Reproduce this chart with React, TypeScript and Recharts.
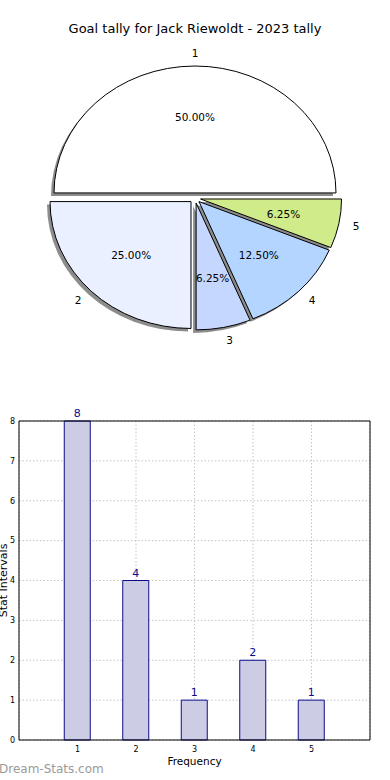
import { Bar, BarChart, CartesianGrid, Cell, LabelList, Pie, PieChart, ReferenceLine, Sector, XAxis, YAxis } from 'recharts';

const goalCounts = [1, 2, 3, 4, 5];
const frequencies = [8, 4, 1, 2, 1];
const sliceColors = ['#ffffff', '#eaf0ff', '#c6d7ff', '#b3d5ff', '#d0eb8a'];
const yTicks = [0, 1, 2, 3, 4, 5, 6, 7, 8];
const xTicks = [1, 2, 3, 4, 5];

const FONT = '"DejaVu Sans", sans-serif';
const SY = 0.9; // pie is drawn as an ellipse, like the original
const EXPLODE = 0.04;
const NAVY = '#0c0c8a';

const pieData = goalCounts.map((g, i) => ({ name: String(g), value: frequencies[i] }));
const barData = goalCounts.map((g, i) => ({ x: g, count: frequencies[i] }));

function offsetOf(props: any) {
  const rad = (-props.midAngle * Math.PI) / 180;
  const d = EXPLODE * props.outerRadius;
  return { rad, ex: d * Math.cos(rad), ey: d * Math.sin(rad) };
}

function ShadowSlice(props: any) {
  const { cx, cy, outerRadius, startAngle, endAngle } = props;
  const { ex, ey } = offsetOf(props);
  return (
    <g transform={`translate(0 ${cy}) scale(1 ${SY}) translate(${ex - 3} ${ey - cy + 3 / SY})`}>
      <Sector cx={cx} cy={cy} innerRadius={0} outerRadius={outerRadius} startAngle={startAngle} endAngle={endAngle} fill="#8c8c8c" stroke="none" />
    </g>
  );
}

function Slice(props: any) {
  const { cx, cy, outerRadius, startAngle, endAngle, fill, percent, name } = props;
  const { rad, ex, ey } = offsetOf(props);
  const lx = cx + ex + 1.1 * outerRadius * Math.cos(rad);
  const ly = cy + SY * (ey + 1.1 * outerRadius * Math.sin(rad));
  const px = cx + ex + 0.6 * outerRadius * Math.cos(rad);
  const py = cy + SY * (ey + 0.6 * outerRadius * Math.sin(rad));
  return (
    <g>
      <g transform={`translate(0 ${cy}) scale(1 ${SY}) translate(${ex} ${ey - cy})`}>
        <Sector
          cx={cx}
          cy={cy}
          innerRadius={0}
          outerRadius={outerRadius}
          startAngle={startAngle}
          endAngle={endAngle}
          fill={fill}
          stroke="#000"
          strokeWidth={1}
          vectorEffect="non-scaling-stroke"
        />
      </g>
      <text x={lx} y={ly} textAnchor={Math.cos(rad) > 0.001 ? 'start' : Math.cos(rad) < -0.001 ? 'end' : 'middle'} dominantBaseline="central" fontSize={10.5} fontFamily={FONT} fill="#000">
        {name}
      </text>
      <text x={px} y={py} textAnchor="middle" dominantBaseline="central" fontSize={10.5} fontFamily={FONT} fill="#000">
        {(percent * 100).toFixed(2)}%
      </text>
    </g>
  );
}

const tickStyle = { fontFamily: FONT, fontSize: 8, fill: '#000' };

export default function App() {
  return (
    <div style={{ position: 'absolute', left: 0, top: 0, width: 390, height: 780, background: '#fff', overflow: 'hidden' }}>
      <div style={{ position: 'absolute', left: 0, top: 21, width: 390, textAlign: 'center', fontFamily: FONT, fontSize: 13, color: '#000' }}>
        Goal tally for Jack Riewoldt - 2023 tally
      </div>
      <div style={{ position: 'absolute', left: 0, top: 0 }}>
        <PieChart width={390} height={370} margin={{ top: 0, right: 0, bottom: 0, left: 0 }}>
          <Pie
            data={pieData}
            dataKey="value"
            cx={195}
            cy={198}
            outerRadius={141}
            startAngle={0}
            endAngle={360}
            shape={ShadowSlice}
            inactiveShape={ShadowSlice}
            activeShape={ShadowSlice}
            isAnimationActive={false}
          />
          <Pie
            data={pieData}
            dataKey="value"
            cx={195}
            cy={198}
            outerRadius={141}
            startAngle={0}
            endAngle={360}
            shape={Slice}
            inactiveShape={Slice}
            activeShape={Slice}
            isAnimationActive={false}
          >
            {pieData.map((d, i) => (
              <Cell key={d.name} fill={sliceColors[i]} />
            ))}
          </Pie>
        </PieChart>
      </div>
      <div style={{ position: 'absolute', left: 0, top: 400 }}>
        <BarChart width={390} height={380} data={barData} margin={{ top: 21, right: 20, left: 0, bottom: 0 }}>
          <CartesianGrid stroke="#c4c4c4" strokeDasharray="1.5 2" />
          <XAxis
            dataKey="x"
            type="number"
            domain={[0, 6]}
            ticks={xTicks}
            height={40}
            stroke="#000"
            tickLine={false}
            tickSize={0}
            tickMargin={6}
            tick={tickStyle}
            label={{ value: 'Frequency', position: 'insideBottom', offset: 15, fontSize: 10.5, fill: '#000', fontFamily: FONT }}
          />
          <YAxis
            domain={[0, 8]}
            ticks={yTicks}
            width={19}
            stroke="#000"
            tickLine={false}
            tickSize={0}
            tickMargin={4}
            tick={tickStyle}
            label={{ value: 'Stat Intervals', angle: -90, position: 'center', dx: -6, fontSize: 11, fill: '#000', fontFamily: FONT }}
          />
          <ReferenceLine y={8} stroke="#000" />
          <ReferenceLine x={6} stroke="#000" />
          <Bar dataKey="count" barSize={26} fill="#ccccE5" stroke={NAVY} strokeWidth={1} isAnimationActive={false}>
            <LabelList dataKey="count" position="top" offset={4} fill={NAVY} fontSize={11} fontFamily={FONT} />
          </Bar>
        </BarChart>
      </div>
      <div style={{ position: 'absolute', left: -1, top: 762, fontFamily: FONT, fontSize: 12, color: '#9a9a9a' }}>
        Dream-Stats.com
      </div>
    </div>
  );
}
